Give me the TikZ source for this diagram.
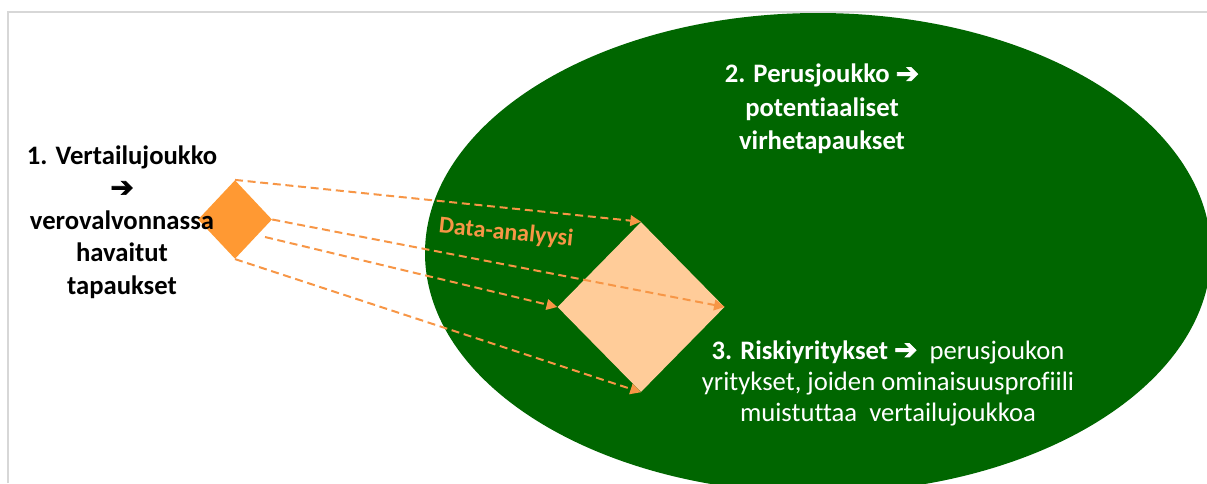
\documentclass[tikz,border=0pt]{standalone}
\usepackage{fontspec}
\setmainfont[Ligatures=NoCommon]{Carlito}
\newfontfamily\arrowfont[FakeBold=2.5]{DejaVu Sans}
\usetikzlibrary{shapes.geometric,arrows.meta,calc}
\definecolor{dgreen}{RGB}{0,102,0}
\definecolor{orng}{RGB}{255,153,51}
\definecolor{peach}{RGB}{255,204,153}
\definecolor{dashor}{RGB}{247,150,70}
\definecolor{framec}{RGB}{215,215,215}
\tikzset{
  dasharrow/.style={draw=dashor, line width=1.5pt, dash pattern=on 6pt off 3.5pt,
    -{Triangle[length=8pt,width=8pt]}, shorten >=0pt},
  lbl/.style={align=center, inner sep=0pt, font=\fontsize{20}{24.4}\selectfont},
}
\begin{document}
\begin{tikzpicture}[x=0.75pt,y=-0.75pt]
\useasboundingbox (0,0) rectangle (1207,483);
\begin{scope}
\clip (0,0) rectangle (1207,483);
\draw[framec, line width=1.2pt] (8,483) -- (8,12) -- (1207,12);
\node[ellipse, fill=dgreen, inner sep=0pt, minimum width=589.5pt, minimum height=360pt] (pop) at (818,253) {};
\end{scope}
\node[diamond, fill=orng, inner sep=0pt, minimum width=55.5pt, minimum height=59pt] (s) at (235,219.5) {};
\node[diamond, fill=peach, inner sep=0pt, minimum width=125.25pt, minimum height=127.5pt] (b) at (641,307) {};
\coordinate (s3) at (265,237);
\draw[dasharrow] (s.north) -- (b.north);
\draw[dasharrow] (s.east) -- (b.east);
\draw[dasharrow] (s3) -- (b.west);
\draw[dasharrow] (s.south) -- (b.south);
\node[text=dashor, font=\bfseries\fontsize{18}{20}\selectfont, rotate=-6, inner sep=0pt] (da) at (506,233) {Data-analyysi};
\node[lbl, font=\bfseries\fontsize{20}{24.4}\selectfont] (t1) at (122,222)
  {1. Vertailujoukko\\ {\arrowfont\fontsize{21}{24.4}\selectfont ➔}\\ verovalvonnassa\\ havaitut\\ tapaukset};
\node[lbl, text=white, font=\bfseries\fontsize{20}{25}\selectfont] (t2) at (822,109)
  {2. Perusjoukko {\arrowfont\fontsize{21}{25}\selectfont ➔}\\ potentiaaliset\\ virhetapaukset};
\node[lbl, text=white, font=\fontsize{20}{23.3}\selectfont] (t3) at (888,383)
  {{\bfseries 3. Riskiyritykset} {\arrowfont\fontsize{21}{23.3}\selectfont ➔}\ \ perusjoukon\\ yritykset, joiden ominaisuusprofiili\\ muistuttaa\ \ vertailujoukkoa};
\end{tikzpicture}
\end{document}
